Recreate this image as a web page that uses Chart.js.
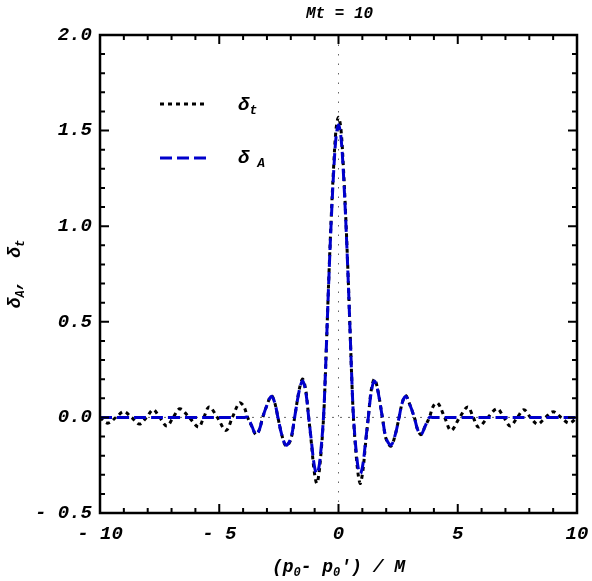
<!DOCTYPE html>
<html>
<head>
<meta charset="utf-8">
<script src="https://cdn.jsdelivr.net/npm/chart.js@4.4.0/dist/chart.umd.min.js"></script>
<style>
  html, body { margin: 0; padding: 0; background: #fff; }
</style>
</head>
<body>
<canvas id="myChart" width="592" height="581"></canvas>
<script>
// values
const xA = [-10, -9, -8, -7, -6, -5, -4.2, -3.95, -3.81, -3.62, -3.46, -3.32, -3.18, -2.98, -2.82, -2.68, -2.54, -2.38, -2.2, -2.0,
  -1.84, -1.63, -1.5, -1.37, -1.25, -1.14, -1.03, -0.93, -0.85, -0.75, -0.63, -0.56, -0.5, -0.4, -0.3, -0.2, -0.1, 0,
  0.1, 0.2, 0.3, 0.4, 0.5, 0.56, 0.63, 0.75, 0.85, 0.93, 1.03, 1.14, 1.25, 1.37, 1.5, 1.63, 1.84,
  2.0, 2.2, 2.38, 2.54, 2.68, 2.82, 2.98, 3.18, 3.32, 3.46, 3.62, 3.81, 3.95, 4.2, 5, 6, 7, 8, 9, 10];
const yA = [0, 0, 0, 0, 0, 0, 0, 0, 0, -0.05, -0.09, -0.065, 0, 0.07, 0.11, 0.08, 0, -0.09, -0.145, -0.11,
  0, 0.15, 0.19, 0.13, 0, -0.12, -0.24, -0.293, -0.28, -0.19, 0, 0.195, 0.40, 0.74, 1.04, 1.29, 1.47, 1.53,
  1.47, 1.29, 1.04, 0.74, 0.40, 0.195, 0, -0.19, -0.28, -0.293, -0.24, -0.12, 0, 0.13, 0.19, 0.15, 0,
  -0.11, -0.145, -0.09, 0, 0.08, 0.11, 0.07, 0, -0.065, -0.09, -0.05, 0, 0, 0, 0, 0, 0, 0, 0, 0];

const xT = [-10, -9.67, -9.33, -9.0, -8.68, -8.35, -8.05, -7.77, -7.5, -7.2, -6.93, -6.65, -6.26, -5.87, -5.65, -5.42, -5.08, -4.72, -4.45, -4.16, -3.98,
  -3.81, -3.62, -3.46, -3.32, -3.18, -2.98, -2.82, -2.68, -2.54, -2.38, -2.2, -2.0, -1.84, -1.63, -1.5, -1.37, -1.25, -1.14, -1.03,
  -0.92, -0.85, -0.75, -0.63, -0.56, -0.5, -0.4, -0.3, -0.2, -0.1, 0,
  0.1, 0.2, 0.3, 0.4, 0.5, 0.56, 0.63, 0.75, 0.85, 0.92,
  1.03, 1.14, 1.25, 1.37, 1.5, 1.63, 1.84, 2.0, 2.2, 2.38, 2.54, 2.68, 2.82, 2.98, 3.18, 3.32, 3.46, 3.62, 3.81,
  3.98, 4.16, 4.45, 4.72, 5.08, 5.42, 5.65, 5.87, 6.26, 6.65, 6.93, 7.2, 7.5, 7.77, 8.05, 8.35, 8.68, 9.0, 9.33, 9.67, 10];
const yT = [0, -0.03, 0, 0.03, 0, -0.035, 0, 0.04, 0, -0.045, 0, 0.045, 0, -0.05, 0, 0.055, 0, -0.068, 0, 0.075, 0.06,
  0, -0.05, -0.09, -0.065, 0, 0.07, 0.115, 0.08, 0, -0.09, -0.15, -0.115, 0, 0.155, 0.20, 0.14, 0, -0.13, -0.27,
  -0.345, -0.32, -0.21, -0.01, 0.19, 0.40, 0.75, 1.06, 1.32, 1.51, 1.57,
  1.51, 1.32, 1.06, 0.75, 0.40, 0.19, -0.01, -0.21, -0.32, -0.345,
  -0.27, -0.13, 0, 0.14, 0.20, 0.155, 0, -0.115, -0.15, -0.09, 0, 0.08, 0.115, 0.07, 0, -0.065, -0.09, -0.05, 0,
  0.06, 0.075, 0, -0.068, 0, 0.055, 0, -0.05, 0, 0.045, 0, -0.045, 0, 0.04, 0, -0.035, 0, 0.03, 0, -0.03, 0];

const xMajor = [-10, -5, 0, 5, 10];
const yMajor = [-0.5, 0, 0.5, 1.0, 1.5, 2.0];

const mono = "'Liberation Mono', 'DejaVu Sans Mono', monospace";
const blue = "#0000cc";

// draws text with subscripts, parts = [[text, isSub], ...]
function drawRich(ctx, parts, x, y, size, align) {
  const mainFont = `italic bold ${size}px ${mono}`;
  const subFont = `italic bold ${Math.round(size * 0.68)}px ${mono}`;
  let w = 0;
  parts.forEach((p) => {
    ctx.font = p[1] ? subFont : mainFont;
    w += ctx.measureText(p[0]).width;
  });
  let cx = align === "center" ? x - w / 2 : x;
  ctx.textAlign = "left";
  ctx.textBaseline = "middle";
  parts.forEach((p) => {
    ctx.font = p[1] ? subFont : mainFont;
    ctx.fillText(p[0], cx, p[1] ? y + size * 0.32 : y);
    cx += ctx.measureText(p[0]).width;
  });
}

const framePlugin = {
  id: "frame",
  beforeDatasetsDraw(chart) {
    const { ctx, chartArea: a, scales } = chart;
    const x0 = scales.x.getPixelForValue(0);
    const y0 = scales.y.getPixelForValue(0);
    ctx.save();
    ctx.strokeStyle = "#666";
    ctx.lineWidth = 1;
    ctx.setLineDash([1.5, 8]);
    ctx.beginPath();
    ctx.moveTo(x0, a.top);
    ctx.lineTo(x0, a.bottom);
    ctx.stroke();
    ctx.setLineDash([2, 6]);
    ctx.beginPath();
    ctx.moveTo(a.left, y0);
    ctx.lineTo(a.right, y0);
    ctx.stroke();
    ctx.restore();
  },
  afterDatasetsDraw(chart) {
    const { ctx, chartArea: a, scales } = chart;
    ctx.save();
    ctx.strokeStyle = "#000";
    ctx.setLineDash([]);
    // tick marks pointing in, on all four sides
    ctx.lineWidth = 2;
    ctx.beginPath();
    for (let i = -10; i <= 10; i++) {
      const px = scales.x.getPixelForValue(i);
      const len = xMajor.includes(i) ? 9 : 5;
      ctx.moveTo(px, a.bottom);
      ctx.lineTo(px, a.bottom - len);
      ctx.moveTo(px, a.top);
      ctx.lineTo(px, a.top + len);
    }
    for (let j = -5; j <= 20; j++) {
      const v = j / 10;
      const py = scales.y.getPixelForValue(v);
      const len = j % 5 === 0 ? 9 : 5;
      ctx.moveTo(a.left, py);
      ctx.lineTo(a.left + len, py);
      ctx.moveTo(a.right, py);
      ctx.lineTo(a.right - len, py);
    }
    ctx.stroke();
    ctx.lineWidth = 2.5;
    ctx.strokeRect(a.left, a.top, a.right - a.left, a.bottom - a.top);
    ctx.restore();
  },
  afterDraw(chart) {
    const { ctx, chartArea: a } = chart;
    const cx = (a.left + a.right) / 2;
    ctx.save();
    ctx.fillStyle = "#000";

    // title
    drawRich(ctx, [["Mt = 10", false]], cx + 1, 14, 16, "center");

    // legend
    const lx = a.left + 60;
    ctx.lineWidth = 3;
    ctx.strokeStyle = "#000";
    ctx.setLineDash([4, 4]);
    ctx.beginPath();
    ctx.moveTo(lx, a.top + 69);
    ctx.lineTo(lx + 48, a.top + 69);
    ctx.stroke();
    ctx.strokeStyle = blue;
    ctx.setLineDash([12, 5]);
    ctx.beginPath();
    ctx.moveTo(lx, a.top + 123);
    ctx.lineTo(lx + 46, a.top + 123);
    ctx.stroke();
    ctx.setLineDash([]);
    drawRich(ctx, [["δ", false], ["t", true]], lx + 78, a.top + 70, 19, "left");
    drawRich(ctx, [["δ", false], [" A", true]], lx + 78, a.top + 123, 19, "left");

    // axis titles
    drawRich(ctx, [["(p", false], ["0", true], ["- p", false], ["0", true], ["′) / M", false]], cx, 567, 18, "center");
    ctx.translate(17, (a.top + a.bottom) / 2);
    ctx.rotate(-Math.PI / 2);
    drawRich(ctx, [["δ", false], ["A", true], [",  δ", false], ["t", true]], 0, -2, 18, "center");
    ctx.restore();
  },
};

const tickFont = { family: mono, size: 19, style: "italic", weight: "bold" };

const ctx = document.getElementById("myChart").getContext("2d");
const myChart = new Chart(ctx, {
  type: "line",
  data: {
    datasets: [
      {
        label: "δA",
        data: xA.map((x, i) => ({ x: x, y: yA[i] })),
        borderColor: blue,
        borderWidth: 3,
        borderDash: [12, 5],
        pointRadius: 0,
        tension: 0.35,
        fill: false,
      },
      {
        label: "δt",
        data: xT.map((x, i) => ({ x: x, y: yT[i] })),
        borderColor: "#000",
        borderWidth: 3,
        borderDash: [4, 4],
        pointRadius: 0,
        tension: 0.35,
        fill: false,
      },
    ],
  },
  options: {
    responsive: false,
    animation: false,
    layout: { padding: { top: 35, right: 15, left: 0, bottom: 0 } },
    plugins: {
      legend: { display: false },
      title: { display: false },
      tooltip: { enabled: false },
    },
    scales: {
      x: {
        type: "linear",
        min: -10,
        max: 10,
        grid: { display: false, drawTicks: false },
        border: { display: false },
        afterFit: (s) => { s.height = 68; s.paddingLeft = 0; s.paddingRight = 0; },
        afterBuildTicks: (s) => { s.ticks = xMajor.map((v) => ({ value: v })); },
        ticks: {
          font: tickFont,
          color: "#000",
          padding: 10,
          maxRotation: 0,
          autoSkip: false,
          callback: (v) => (v < 0 ? "- " + Math.abs(v) : String(v)),
        },
      },
      y: {
        type: "linear",
        min: -0.5,
        max: 2.0,
        grid: { display: false, drawTicks: false },
        border: { display: false },
        afterFit: (s) => { s.width = 100; s.paddingTop = 0; s.paddingBottom = 0; },
        afterBuildTicks: (s) => { s.ticks = yMajor.map((v) => ({ value: v })); },
        ticks: {
          font: tickFont,
          color: "#000",
          padding: 8,
          autoSkip: false,
          callback: (v) => (v < 0 ? "- " + Math.abs(v).toFixed(1) : v.toFixed(1)),
        },
      },
    },
  },
  plugins: [framePlugin],
});
</script>
</body>
</html>
